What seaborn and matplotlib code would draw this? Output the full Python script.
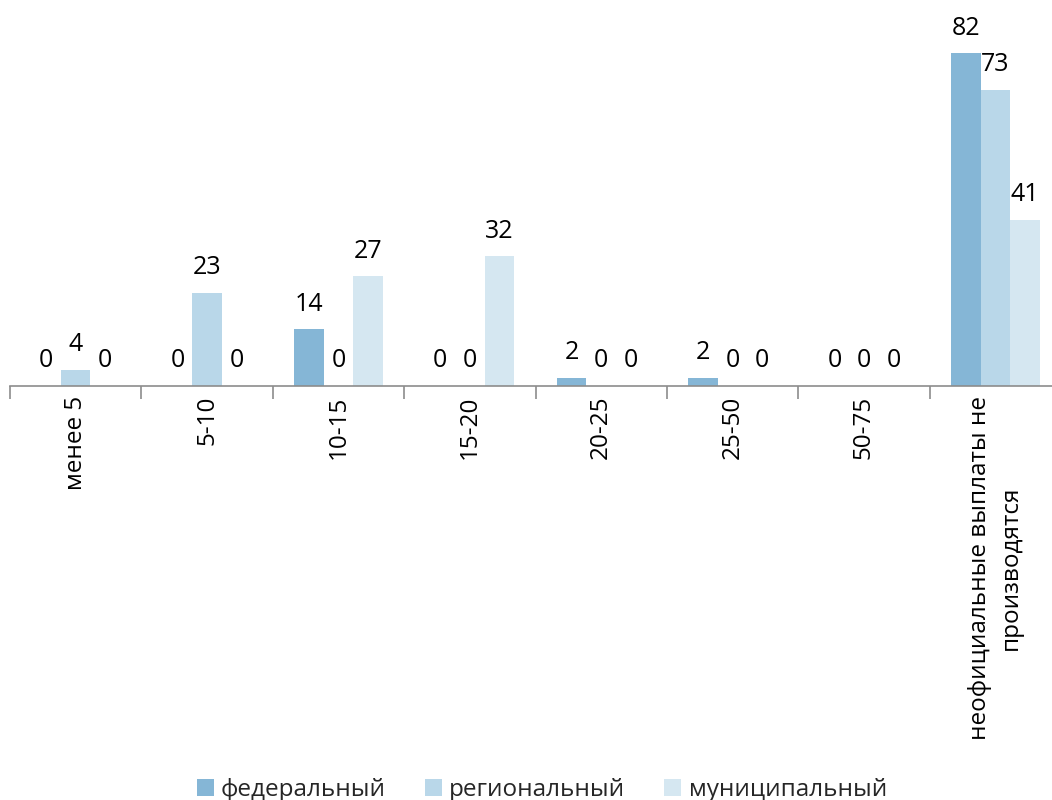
import matplotlib
matplotlib.use("Agg")
import matplotlib.pyplot as plt
import seaborn as sns
import pandas as pd
import numpy as np

categories = ["менее 5", "5-10", "10-15", "15-20", "20-25", "25-50", "50-75",
              "неофициальные выплаты не\nпроизводятся"]
series = ["федеральный", "региональный", "муниципальный"]
federal = [0, 0, 14, 0, 2, 2, 0, 82]
regional = [4, 23, 0, 0, 0, 0, 0, 73]
municipal = [0, 0, 27, 32, 0, 0, 0, 41]
colors = ["#85B6D6", "#B9D7E9", "#D5E7F1"]

rows = []
for s, vals in zip(series, [federal, regional, municipal]):
    for c, v in zip(categories, vals):
        rows.append({"cat": c, "series": s, "value": v})
df = pd.DataFrame(rows)

sns.set_theme(style="white")
plt.rcParams["font.family"] = ["Open Sans", "DejaVu Sans"]

fig = plt.figure(figsize=(10.52, 8), dpi=100)
ax = fig.add_axes([10/1052, 1-386/800, 1051/1052, 0.4567])
sns.barplot(data=df, x="cat", y="value", hue="series", order=categories,
            hue_order=series, palette=colors, width=0.675, gap=0,
            saturation=1, ax=ax, legend=True, edgecolor="none", linewidth=0)
ax.set_ylim(0, 90)
ax.set_xlim(-0.5, 7.5)
for cont in ax.containers:
    ax.bar_label(cont, fmt="%g", padding=9, fontsize=18, color="black")

for sp in ["top", "right", "left"]:
    ax.spines[sp].set_visible(False)
ax.spines["bottom"].set_color("#8c8c8c")
ax.spines["bottom"].set_linewidth(1.2)
ax.set_yticks([])
ax.set_xlabel("")
ax.set_ylabel("")
ax.set_xticks(range(len(categories)))
ax.set_xticklabels(categories, rotation=90, fontsize=17.5, va="top", ha="center",
                   multialignment="center", color="black", linespacing=1.35)
ax.tick_params(axis="x", which="major", length=0, pad=7)
ax.set_xticks(np.arange(-0.5, 8.0, 1.0), minor=True)
ax.tick_params(axis="x", which="minor", length=9, width=1.2, color="#8c8c8c",
               direction="out", bottom=True)

handles, labels = ax.get_legend_handles_labels()
ax.legend_.remove()
fig.legend(handles, labels, loc="lower center", bbox_to_anchor=(0.515, -0.03),
           ncol=3, frameon=False, fontsize=17.5, handlelength=0.7, handleheight=0.7,
           handletextpad=0.3, columnspacing=1.6)

fig.savefig("out.png", dpi=100)
